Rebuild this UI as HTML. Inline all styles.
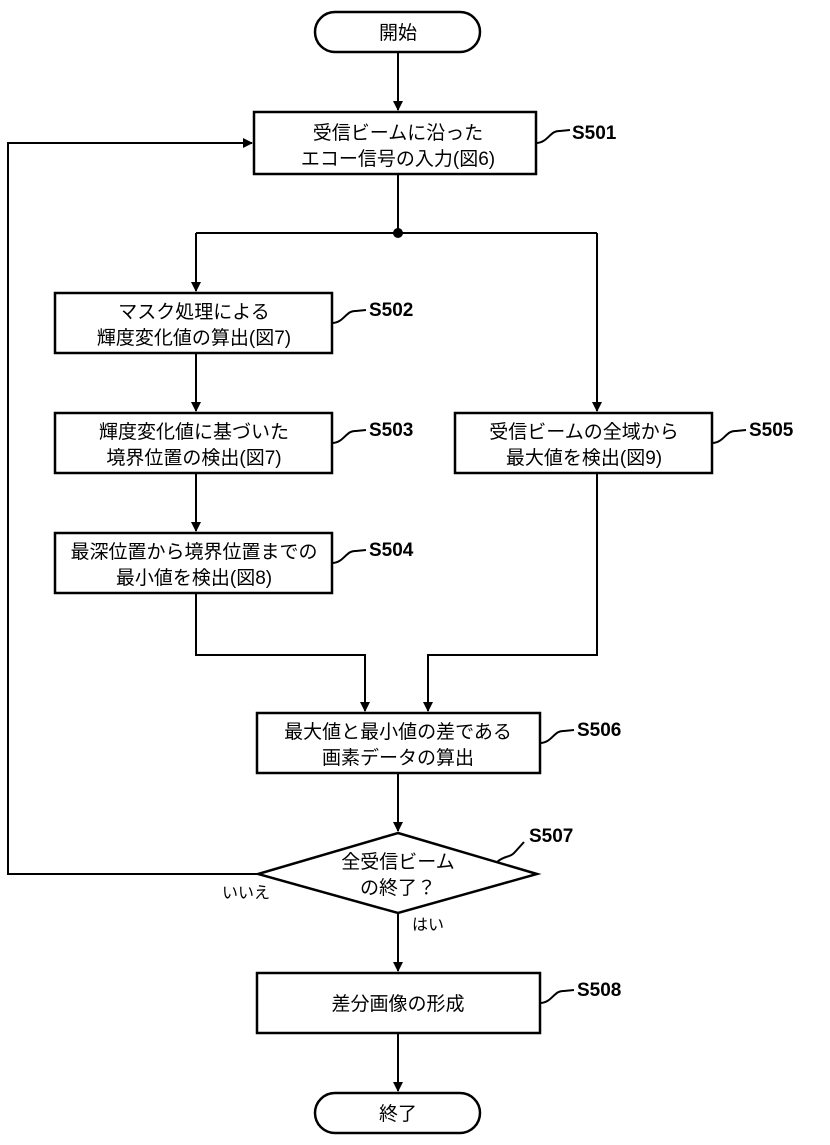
<!DOCTYPE html>
<html><head><meta charset="utf-8"><style>
html,body{margin:0;padding:0;background:#fff;}
svg text{font-family:"Liberation Sans","Noto Sans CJK JP",sans-serif;fill:#000;}
</style></head><body>
<svg width="830" height="1140" viewBox="0 0 830 1140" xmlns="http://www.w3.org/2000/svg">
<defs><marker id="a" markerWidth="10" markerHeight="10" refX="9" refY="5" orient="auto" markerUnits="userSpaceOnUse"><path d="M0,0 L10,5 L0,10 z" fill="#000"/></marker></defs>
<g fill="none" stroke="#000" stroke-width="2.5">
<rect x="315" y="12" width="165" height="40" rx="20"/>
<rect x="254" y="112" width="282" height="62"/>
<rect x="55" y="293" width="277" height="60"/>
<rect x="55" y="413" width="277" height="60"/>
<rect x="55" y="533" width="277" height="60"/>
<rect x="455" y="413" width="257" height="60"/>
<rect x="257" y="713" width="283" height="60"/>
<path d="M398,833 L537,874 L398,913 L258,874 Z"/>
<rect x="257" y="973" width="283" height="60"/>
<rect x="315" y="1093" width="165" height="40" rx="20"/>
</g>
<g fill="none" stroke="#000" stroke-width="2">
<path d="M398,52 V110" marker-end="url(#a)"/>
<path d="M398,174 V233"/>
<path d="M196,233 H597"/>
<path d="M196,233 V291" marker-end="url(#a)"/>
<path d="M597,233 V411" marker-end="url(#a)"/>
<path d="M196,353 V411" marker-end="url(#a)"/>
<path d="M196,473 V531" marker-end="url(#a)"/>
<path d="M196,593 V655 H365 V711" marker-end="url(#a)"/>
<path d="M597,473 V655 H428 V711" marker-end="url(#a)"/>
<path d="M398,773 V831" marker-end="url(#a)"/>
<path d="M258,874 H8 V143 H252" marker-end="url(#a)"/>
<path d="M398,913 V971" marker-end="url(#a)"/>
<path d="M398,1033 V1091" marker-end="url(#a)"/>
<path d="M536,143 C548,143 550,130 560,131 L570,130"/>
<path d="M332,323 C344,323 346,310 356,311 L366,310"/>
<path d="M332,443 C344,443 346,430 356,431 L366,430"/>
<path d="M332,563 C344,563 346,550 356,551 L366,550"/>
<path d="M712,443 C724,443 726,430 736,431 L746,430"/>
<path d="M540,743 C552,743 554,730 564,731 L574,730"/>
<path d="M540,1003 C552,1003 554,990 564,991 L574,990"/>
<path d="M497,862 C505,855 510,858 515,852 L524,842"/>
</g>
<circle cx="398" cy="233" r="5" fill="#000"/>
<g font-size="19" text-anchor="middle">
<text x="398" y="39">開始</text>
<text x="398" y="139">受信ビームに沿った</text>
<text x="398" y="165">エコー信号の入力(図6)</text>
<text x="194" y="318">マスク処理による</text>
<text x="194" y="344">輝度変化値の算出(図7)</text>
<text x="194" y="438">輝度変化値に基づいた</text>
<text x="194" y="464">境界位置の検出(図7)</text>
<text x="194" y="558">最深位置から境界位置までの</text>
<text x="194" y="584">最小値を検出(図8)</text>
<text x="584" y="438">受信ビームの全域から</text>
<text x="584" y="464">最大値を検出(図9)</text>
<text x="398" y="738">最大値と最小値の差である</text>
<text x="398" y="764">画素データの算出</text>
<text x="398" y="868">全受信ビーム</text>
<text x="398" y="894">の終了？</text>
<text x="398" y="1010">差分画像の形成</text>
<text x="398" y="1120">終了</text>
</g>
<g font-size="19" font-weight="bold">
<text x="572" y="139">S501</text>
<text x="369" y="316">S502</text>
<text x="369" y="436">S503</text>
<text x="369" y="556">S504</text>
<text x="749" y="436">S505</text>
<text x="577" y="736">S506</text>
<text x="529" y="842">S507</text>
<text x="577" y="996">S508</text>
</g>
<g font-size="16">
<text x="222" y="898">いいえ</text>
<text x="412" y="930">はい</text>
</g>
</svg>
</body></html>
